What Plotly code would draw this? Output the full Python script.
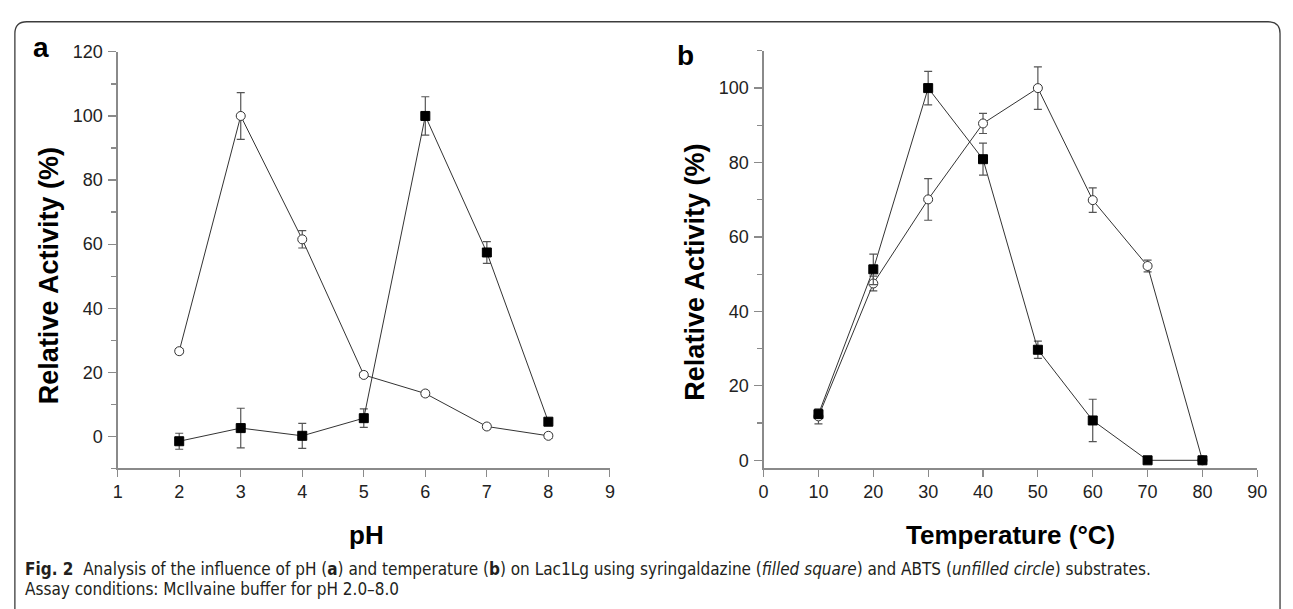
import plotly.graph_objects as go

# ---------------- data ----------------
ph = [2, 3, 4, 5, 6, 7, 8]
ph_syringaldazine = [-1.5, 2.6, 0.2, 5.7, 100, 57.4, 4.6]
ph_syringaldazine_err = [2.5, 6.2, 3.9, 2.9, 6.0, 3.4, 0.5]
ph_abts = [26.6, 100, 61.5, 19.2, 13.4, 3.1, 0.2]
ph_abts_err = [0.8, 7.3, 2.7, 0.8, 0.8, 0.8, 0.8]

temperature = [10, 20, 30, 40, 50, 60, 70, 80]
temp_syringaldazine = [12.4, 51.3, 100, 80.9, 29.7, 10.7, 0, 0]
temp_syringaldazine_err = [1.0, 4.1, 4.5, 4.3, 2.3, 5.7, 0.3, 0.3]
temp_abts = [11.8, 47.5, 70.1, 90.5, 100, 69.9, 52.2, 0]
temp_abts_err = [2.0, 2.0, 5.6, 2.7, 5.7, 3.3, 1.6, 0.3]

ph_ticks = [1, 2, 3, 4, 5, 6, 7, 8, 9]
temp_ticks = [0, 10, 20, 30, 40, 50, 60, 70, 80, 90]

W, H = 1293, 609
def fx(px):
    return px / W
def fy(py):
    return 1 - py / H

LINE = "#333333"
AXC = "#8a8a8a"
ERR = "#555555"
FONT = "Liberation Sans, Arial, sans-serif"

fig = go.Figure()

def add_series(x, y, e, xa, ya, symbol):
    filled = symbol == "square"
    fig.add_trace(go.Scatter(
        x=x, y=y, xaxis=xa, yaxis=ya, mode="lines+markers",
        line=dict(color=LINE, width=1),
        marker=dict(symbol=symbol, size=9,
                    color="black" if filled else "white",
                    line=dict(color="black" if filled else LINE, width=1)),
        error_y=dict(type="data", array=e, visible=True, color=ERR,
                     thickness=1.2, width=4),
        showlegend=False, hoverinfo="skip"))

add_series(ph, ph_abts, ph_abts_err, "x", "y", "circle")
add_series(ph, ph_syringaldazine, ph_syringaldazine_err, "x", "y", "square")
add_series(temperature, temp_abts, temp_abts_err, "x2", "y2", "circle")
add_series(temperature, temp_syringaldazine, temp_syringaldazine_err, "x2", "y2", "square")

tickfont = dict(family=FONT, size=18, color="#222222")
common = dict(showline=True, linecolor=AXC, linewidth=1.3, ticks="outside",
              tickcolor=AXC, tickwidth=1.2, showgrid=False, zeroline=False,
              tickfont=tickfont, fixedrange=True)

ybot = fy(467.7)

fig.update_layout(
    width=W, height=H, autosize=False,
    margin=dict(l=0, r=0, t=0, b=0),
    paper_bgcolor="white", plot_bgcolor="white",
    xaxis=dict(domain=[fx(114), fx(612)], range=[1, 9], tickmode="array",
               tickvals=ph_ticks, ticklen=7, anchor="y", **common),
    yaxis=dict(domain=[ybot, fy(42.7)], range=[-10, 120], tick0=0, dtick=20,
               ticklen=8, anchor="x", ticklabelstandoff=2,
               minor=dict(ticks="outside", ticklen=5, tickwidth=1.2,
                          tickcolor=AXC, tick0=0, dtick=10, showgrid=False),
               **common),
    xaxis2=dict(domain=[fx(767.5), fx(1267)], range=[0, 90], tickmode="array",
                tickvals=temp_ticks, ticklen=7, anchor="y2", **common),
    yaxis2=dict(domain=[ybot, fy(41.7)], range=[-2.2, 110], tick0=0, dtick=20,
                ticklen=8, anchor="x2", ticklabelstandoff=2,
                minor=dict(ticks="outside", ticklen=5, tickwidth=1.2,
                           tickcolor=AXC, tick0=0, dtick=10, showgrid=False),
                **common),
)

title_font = dict(family=FONT, size=26, color="black")
ytitle_font = dict(family=FONT, size=27, color="black")
ann = []
ann.append(dict(text="<b>Relative Activity (%)</b>", x=fx(44), y=fy(271),
                textangle=-90, font=ytitle_font))
ann.append(dict(text="<b>Relative Activity (%)</b>", x=fx(698), y=fy(267),
                textangle=-90, font=ytitle_font))
ann.append(dict(text="<b>pH</b>", x=fx(366), y=fy(536), font=title_font))
ann.append(dict(text="<b>Temperature (°C)</b>", x=fx(1017), y=fy(536), font=title_font))
ann.append(dict(text="<b>a</b>", x=fx(36.5), y=fy(38), font=dict(family=FONT, size=28, color="black")))
ann.append(dict(text="<b>b</b>", x=fx(688), y=fy(46), font=dict(family=FONT, size=28, color="black")))

cap_font = dict(family="Liberation Sans Narrow, Arial Narrow, DejaVu Sans Condensed, sans-serif",
                size=17, color="#231f20")
line1 = ("<b>Fig. 2</b>&nbsp;&nbsp;Analysis of the influence of pH (<b>a</b>) and temperature (<b>b</b>) "
         "on Lac1Lg using syringaldazine (<i>filled square</i>) and ABTS (<i>unfilled circle</i>) substrates.")
line2 = "Assay conditions: McIlvaine buffer for pH 2.0–8.0"
ann.append(dict(text=line1, x=fx(18), y=fy(570), xanchor="left", font=cap_font))
ann.append(dict(text=line2, x=fx(18), y=fy(591), xanchor="left", font=cap_font))

for a in ann:
    a.setdefault("xanchor", "center")
    a.update(xref="paper", yref="paper", yanchor="middle", showarrow=False)
fig.update_layout(annotations=ann)

# rounded frame around the figure
L, T, R, B, r = 10, 12, 1290, 640, 12
path = (f"M {fx(L)},{fy(B)} L {fx(L)},{fy(T + r)} Q {fx(L)},{fy(T)} {fx(L + r)},{fy(T)} "
        f"L {fx(R - r)},{fy(T)} Q {fx(R)},{fy(T)} {fx(R)},{fy(T + r)} L {fx(R)},{fy(B)}")
fig.add_shape(type="path", path=path, xref="paper", yref="paper",
              line=dict(color="#3c3c3c", width=1.3), layer="below")

fig.write_html("out.html",
               config={"displayModeBar": False, "staticPlot": True},
               post_script="document.body.style.margin='0';document.body.style.padding='0';"
                           "document.body.style.overflow='hidden';")
